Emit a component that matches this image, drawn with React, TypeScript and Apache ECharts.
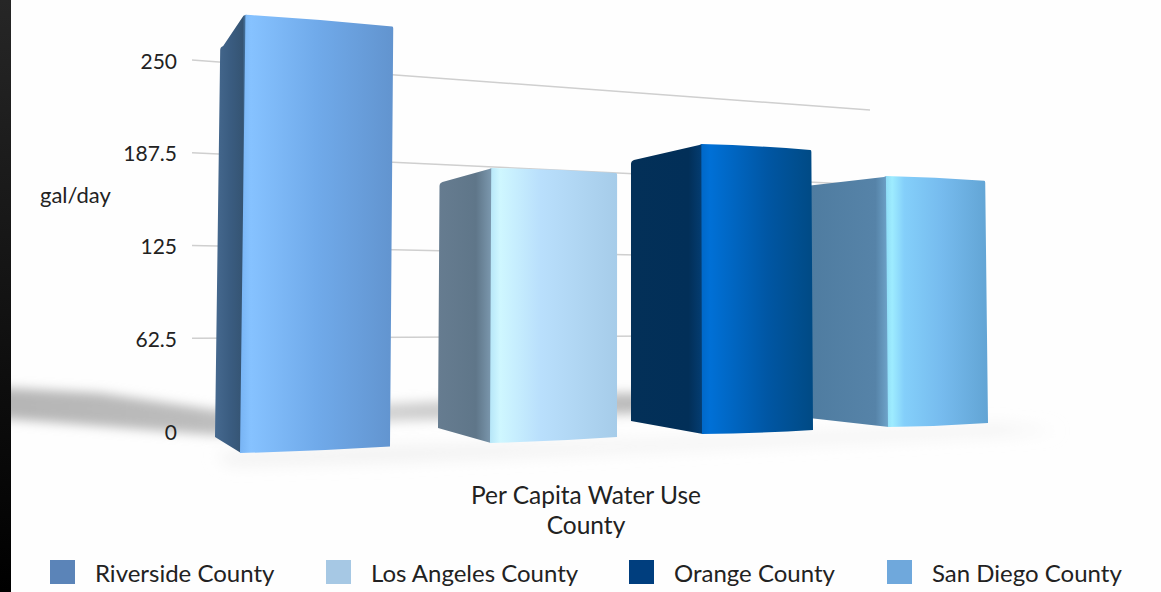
import React, { useEffect, useRef } from "react";
import * as echarts from "echarts";

// Per capita water use, gallons per day
const categories = ["Riverside County", "Los Angeles County", "Orange County", "San Diego County"];
const gallonsPerDay = [262, 176, 197, 185];
const valueTicks = { min: 0, max: 250, interval: 62.5 };
const unitLabel = "gal/day";
const footerLines = ["Per Capita Water Use", "County"];

const swatchColors = ["#5b84b8", "#a6c8e4", "#003e7e", "#6fa8dc"];
const legendLefts = [45, 321, 624, 882];

// Perspective of the back wall: gridlines run towards this point
const wallVanish = { x: 3732, y: 321 };
// Vertical edges lean towards this column
const leanColumn = 630;
const leanRate = 3.2e-5;

// Footprint of each box, relative to its category centre on the zero line:
// [left edge, front edge, right edge]
const footprintDx = [
  [-61.75, -36.75, 113.25],
  [-8.25, 43.75, 170.75],
  [15.25, 86.25, 197.25],
  [14.75, 102.75, 202.75],
];
const footprintDy = [
  [6, 22, 15.5],
  [-3, 12, 6],
  [-10, 3, -1],
  [-14, -4, -8],
];
// Nearer edges appear taller than the wall scale
const edgeScale = [
  [1.003, 1.127, 1.08],
  [0.938, 1.053, 1.011],
  [0.889, 0.992, 0.958],
  [0.836, 0.914, 0.882],
];
const seriesZ = [6, 6, 6, 5];

type Stop = [number, string];
const sideShades: Stop[][] = [
  [[0, "#46698f"], [0.5, "#3a5c80"], [0.88, "#355473"], [1, "#4f83b4"]],
  [[0, "#667c90"], [0.7, "#5f7689"], [1, "#7d9ab0"]],
  [[0, "#033058"], [0.8, "#022f58"], [1, "#043e74"]],
  [[0, "#4e7b9f"], [0.85, "#5683a8"], [1, "#70a6cc"]],
];
const frontShades: Stop[][] = [
  [[0, "#78b4f4"], [0.07, "#86c2ff"], [0.5, "#70aaea"], [1, "#6294cf"]],
  [[0, "#b6e6f8"], [0.08, "#cff7ff"], [0.4, "#b9dffc"], [1, "#a6cce9"]],
  [[0, "#0068c8"], [0.08, "#0070d6"], [0.6, "#0056a3"], [1, "#004a84"]],
  [[0, "#8edcf6"], [0.06, "#9eecff"], [0.18, "#84cffa"], [0.55, "#76bbee"], [1, "#62a4d4"]],
];

const linear = (stops: Stop[]) => ({
  type: "linear",
  x: 0,
  y: 0,
  x2: 1,
  y2: 0,
  colorStops: stops.map(([offset, color]) => ({ offset, color })),
});

// Soft floor shadow behind and beside the boxes
const floorShadow =
  "data:image/svg+xml," +
  encodeURIComponent(
    `<svg xmlns="http://www.w3.org/2000/svg" width="1161" height="592">
      <defs>
        <filter id="s" x="-10%" y="-60%" width="120%" height="220%"><feGaussianBlur stdDeviation="5.5"/></filter>
        <filter id="f" x="-10%" y="-200%" width="120%" height="500%"><feGaussianBlur stdDeviation="8"/></filter>
        <linearGradient id="g" x1="0" x2="1" y1="0" y2="0">
          <stop offset="0" stop-color="#b4b4b4"/>
          <stop offset="0.33" stop-color="#bcbcbc"/>
          <stop offset="0.6" stop-color="#d2d2d2"/>
          <stop offset="0.95" stop-color="#bcbcbc"/>
        </linearGradient>
      </defs>
      <polygon points="-30,386 100,393 215,410 300,407 400,403 620,393 655,393 655,413 620,414 400,421 300,428 215,435 100,426 -30,416" fill="url(#g)" filter="url(#s)"/>
      <polygon points="215,454 400,448 640,442 1000,426 1060,431 640,450 400,460 230,464" fill="#eeeeee" filter="url(#f)"/>
    </svg>`
  );

function faceArc(x1: number, y1: number, x2: number, y2: number, bulge: number) {
  return `Q${(x1 + x2) / 2} ${(y1 + y2) / 2 + bulge} ${x2} ${y2}`;
}

function boxRenderer(index: number) {
  return (_params: any, api: any) => {
    const value = api.value(1);
    const zero = api.coord([api.value(0), 0]);
    const wallHeight = zero[1] - api.coord([api.value(0), value])[1];
    const corners = footprintDx[index].map((dx, k) => {
      const bx = zero[0] + dx;
      const by = zero[1] + footprintDy[index][k];
      const h = wallHeight * edgeScale[index][k];
      return {
        bx,
        by,
        tx: bx + (leanColumn - bx) * leanRate * h,
        ty: by - h,
      };
    });
    const [l, e, r] = corners;
    const side =
      `M${l.bx} ${l.by}L${l.tx} ${l.ty + 3}Q${l.tx} ${l.ty} ${l.tx + 3} ${l.ty - 1}` +
      `L${e.tx - 2} ${e.ty + 1}Q${e.tx} ${e.ty} ${e.tx + 1} ${e.ty}L${e.bx + 1} ${e.by}Z`;
    const front =
      `M${e.bx} ${e.by}L${e.tx} ${e.ty}` +
      faceArc(e.tx, e.ty, r.tx - 1, r.ty, -1.5) +
      `Q${r.tx} ${r.ty} ${r.tx} ${r.ty + 2}L${r.bx} ${r.by}` +
      faceArc(r.bx, r.by, e.bx, e.by, 1.5) +
      "Z";
    return {
      type: "group",
      children: [
        { type: "path", shape: { pathData: side }, style: { fill: linear(sideShades[index]) } },
        { type: "path", shape: { pathData: front }, style: { fill: linear(frontShades[index]) } },
      ],
    };
  };
}

// Gridlines recede along the wall instead of staying horizontal
function wallLine(params: any, api: any) {
  const sys = params.coordSys;
  const y = api.coord([0, api.value(1)])[1];
  const x1 = sys.x;
  const x2 = sys.x + sys.width;
  const t = (x2 - x1) / (wallVanish.x - x1);
  return {
    type: "line",
    shape: { x1, y1: y, x2, y2: y + (wallVanish.y - y) * t },
    style: { stroke: "#cfcfcf", lineWidth: 1.5 },
  };
}

export default function App() {
  const ref = useRef<HTMLDivElement>(null);

  useEffect(() => {
    document.body.style.margin = "0";
    const chart = echarts.init(ref.current!, null, { renderer: "svg" });
    const font = "Lato";
    const ink = "#222222";
    const gridValues = [62.5, 125, 187.5, 250];

    chart.setOption({
      animation: false,
      backgroundColor: "#fefefe",
      textStyle: { fontFamily: font },
      grid: { left: 192, top: 60, width: 678, height: 371 },
      xAxis: { type: "category", data: categories, show: false },
      yAxis: {
        type: "value",
        ...valueTicks,
        axisLine: { show: false },
        axisTick: { show: false },
        splitLine: { show: false },
        axisLabel: { color: ink, fontSize: 21, margin: 15, fontFamily: font },
      },
      legend: categories.map((name, i) => ({
        data: [name],
        left: legendLefts[i],
        top: 555,
        itemWidth: 25,
        itemHeight: 24,
        itemGap: 0,
        icon: "rect",
        selectedMode: false,
        textStyle: { color: ink, fontSize: 24, fontFamily: font, padding: [0, 0, 0, 15] },
      })),
      graphic: [
        { type: "image", z: -5, style: { image: floorShadow, x: 0, y: 0, width: 1161, height: 592 } },
        {
          type: "rect",
          z: -4,
          shape: { x: 0, y: 0, width: 11, height: 592 },
          style: {
            fill: {
              type: "linear",
              x: 0,
              y: 0,
              x2: 0,
              y2: 1,
              colorStops: [
                { offset: 0, color: "#262626" },
                { offset: 1, color: "#000000" },
              ],
            },
          },
        },
        {
          type: "text",
          style: { text: unitLabel, x: 40, y: 194, fill: ink, fontSize: 22, fontFamily: font, verticalAlign: "middle" },
        },
        ...footerLines.map((text, i) => ({
          type: "text",
          style: {
            text,
            x: 586,
            y: 494 + i * 30,
            fill: ink,
            fontSize: 24.5,
            fontFamily: font,
            align: "center",
            verticalAlign: "middle",
          },
        })),
      ],
      series: [
        {
          type: "custom",
          name: "wall",
          z: 1,
          silent: true,
          renderItem: wallLine,
          encode: { x: 0, y: 1 },
          data: gridValues.map((v) => [0, v]),
        },
        ...categories.map((name, i) => ({
          type: "custom",
          name,
          z: seriesZ[i],
          itemStyle: { color: swatchColors[i] },
          renderItem: boxRenderer(i),
          encode: { x: 0, y: 1 },
          data: [[i, gallonsPerDay[i]]],
        })),
      ],
    });

    return () => chart.dispose();
  }, []);

  return <div ref={ref} style={{ position: "absolute", left: 0, top: 0, width: 1161, height: 592 }} />;
}
